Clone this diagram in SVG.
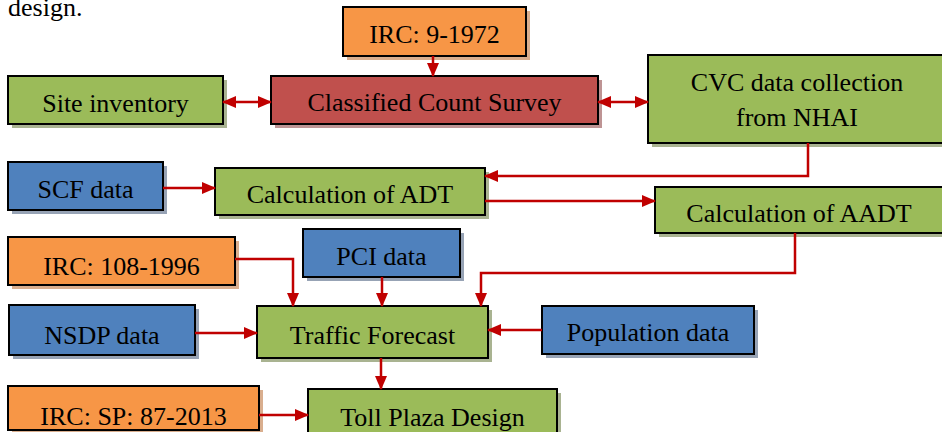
<svg xmlns="http://www.w3.org/2000/svg" width="942" height="432" viewBox="0 0 942 432">
<style>
text{font-family:"Liberation Serif","Times New Roman",serif;font-size:26px;fill:#000;text-anchor:middle}
.box{stroke:#000;stroke-width:2}
.g{fill:#9BBB59}.r{fill:#C0504D}.o{fill:#F79646}.b{fill:#4F81BD}
.sg{fill:#A9B391}.sr{fill:#BE9494}.so{fill:#D9AE8E}.sb{fill:#97A3B5}
.c{fill:none;stroke:#C00000;stroke-width:2.5}
</style>
<defs>
<marker id="ah" markerUnits="userSpaceOnUse" markerWidth="14" markerHeight="12" refX="13" refY="6" orient="auto-start-reverse">
<path d="M0,0 L14,6 L0,12 z" fill="#C00000"/>
</marker>
</defs>
<rect width="942" height="432" fill="#fff"/>
<text x="8" y="16" style="text-anchor:start">design.</text>

<g id="irc9"><rect class="so" x="347" y="11" width="183" height="49"/><rect class="box o" x="343" y="7" width="183" height="49"/><text x="434.5" y="43">IRC: 9-1972</text></g>
<g id="site"><rect class="sg" x="12" y="80" width="215" height="48"/><rect class="box g" x="8" y="76" width="215" height="48"/><text x="115.5" y="112">Site inventory</text></g>
<g id="ccs"><rect class="sr" x="275" y="80" width="327" height="48"/><rect class="box r" x="271" y="76" width="327" height="48"/><text x="434.5" y="111">Classified Count Survey</text></g>
<g id="cvc"><rect class="sg" x="652" y="59" width="300" height="88"/><rect class="box g" x="648" y="55" width="300" height="88"/><text x="797" y="91">CVC data collection</text><text x="797" y="126">from NHAI</text></g>
<g id="scf"><rect class="sb" x="12" y="166" width="155" height="48"/><rect class="box b" x="8" y="162" width="155" height="48"/><text x="85.5" y="198">SCF data</text></g>
<g id="adt"><rect class="sg" x="219" y="172" width="270" height="47"/><rect class="box g" x="215" y="168" width="270" height="47"/><text x="350" y="203">Calculation of ADT</text></g>
<g id="aadt"><rect class="sg" x="659" y="191" width="290" height="46"/><rect class="box g" x="655" y="187" width="290" height="46"/><text x="799" y="222">Calculation of AADT</text></g>
<g id="irc108"><rect class="so" x="12" y="241" width="227" height="48"/><rect class="box o" x="8" y="237" width="227" height="48"/><text x="121.5" y="275">IRC: 108-1996</text></g>
<g id="pci"><rect class="sb" x="307" y="233" width="157" height="48"/><rect class="box b" x="303" y="229" width="157" height="48"/><text x="381.5" y="265">PCI data</text></g>
<g id="nsdp"><rect class="sb" x="13" y="309" width="186" height="50"/><rect class="box b" x="9" y="305" width="186" height="50"/><text x="102" y="344">NSDP data</text></g>
<g id="tf"><rect class="sg" x="261" y="310" width="231" height="52"/><rect class="box g" x="257" y="306" width="231" height="52"/><text x="372.5" y="344">Traffic Forecast</text></g>
<g id="pop"><rect class="sb" x="546" y="310" width="212" height="48"/><rect class="box b" x="542" y="306" width="212" height="48"/><text x="648" y="341">Population data</text></g>
<g id="ircsp"><rect class="so" x="12" y="390" width="251" height="44"/><rect class="box o" x="8" y="386" width="251" height="44"/><text x="133.5" y="425">IRC: SP: 87-2013</text></g>
<g id="tpd"><rect class="sg" x="312" y="393" width="249" height="44"/><rect class="box g" x="308" y="389" width="249" height="44"/><text x="432.5" y="426">Toll Plaza Design</text></g>

<g id="connectors">
<path class="c" d="M433,56 V76" marker-end="url(#ah)"/>
<path class="c" d="M223,102 H271" marker-start="url(#ah)" marker-end="url(#ah)"/>
<path class="c" d="M598,102 H648" marker-start="url(#ah)" marker-end="url(#ah)"/>
<path class="c" d="M808,143 V176 H485" marker-end="url(#ah)"/>
<path class="c" d="M163,188 H215" marker-end="url(#ah)"/>
<path class="c" d="M485,201 H655" marker-end="url(#ah)"/>
<path class="c" d="M795,233 V273 H481 V306" marker-end="url(#ah)"/>
<path class="c" d="M235,259 H293 V306" marker-end="url(#ah)"/>
<path class="c" d="M382,277 V306" marker-end="url(#ah)"/>
<path class="c" d="M195,333 H257" marker-end="url(#ah)"/>
<path class="c" d="M542,330 H488" marker-end="url(#ah)"/>
<path class="c" d="M381,358 V389" marker-end="url(#ah)"/>
<path class="c" d="M259,415 H308" marker-end="url(#ah)"/>
</g>
</svg>
